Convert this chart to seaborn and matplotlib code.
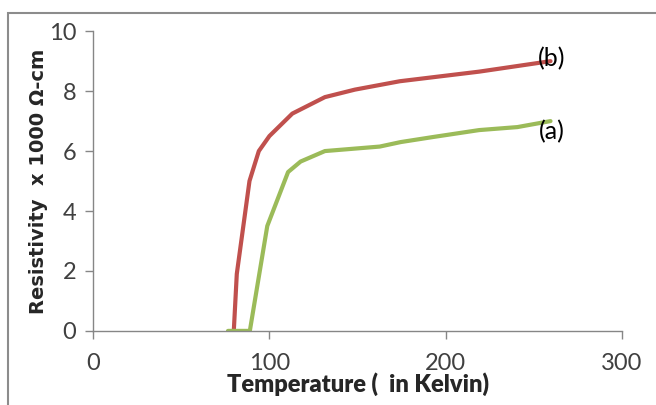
import matplotlib
matplotlib.use("Agg")
import matplotlib.pyplot as plt
import seaborn as sns
from matplotlib.patches import Rectangle

# data
temp_b = [79.8, 81.5, 88.7, 94.0, 100, 113, 131.5, 148.5, 174, 219, 259.5]
rho_b = [0.0, 1.9, 5.0, 6.0, 6.5, 7.25, 7.8, 8.05, 8.33, 8.65, 9.0]
temp_a = [76.5, 88.9, 98.8, 110.6, 117.7, 131.5, 162.6, 174.5, 193, 219, 240.7, 259.5]
rho_a = [0.0, 0.0, 3.5, 5.3, 5.65, 6.0, 6.15, 6.3, 6.47, 6.7, 6.8, 7.0]

x_ticks = [0, 100, 200, 300]
y_ticks = [0, 2, 4, 6, 8, 10]

sns.set_style("white")
plt.rcParams['font.family'] = ['Lato', 'DejaVu Sans']

fig = plt.figure(figsize=(6.56, 4.05), dpi=100)
ax = fig.add_axes([0.142, 0.183, 0.806, 0.740])

# outer chart frame
fig.patches.append(Rectangle((8 / 656, -0.1), 1.1, 1 - 13 / 405 + 0.1,
                             transform=fig.transFigure, fill=False,
                             edgecolor='#8c8c8c', linewidth=1.5))

sns.lineplot(x=temp_b, y=rho_b, ax=ax, sort=False, color='#C0504D', linewidth=3)
sns.lineplot(x=temp_a, y=rho_a, ax=ax, sort=False, color='#9BBB59', linewidth=3)

ax.text(260, 9.1, "(b)", fontsize=18, ha='center', va='center', color='black')
ax.text(260, 6.65, "(a)", fontsize=18, ha='center', va='center', color='black')

ax.set_xlim(0, 300)
ax.set_ylim(0, 10)
ax.set_xticks(x_ticks)
ax.set_yticks(y_ticks)

for s in ['top', 'right']:
    ax.spines[s].set_visible(False)
for s in ['left', 'bottom']:
    ax.spines[s].set_color('#868686')
    ax.spines[s].set_linewidth(1)
ax.tick_params(axis='both', direction='out', length=6, width=1, color='#868686',
               labelsize=17, labelcolor='#404040', left=True, bottom=True)
ax.tick_params(axis='x', pad=10)
ax.tick_params(axis='y', pad=6)

ax.set_xlabel("Temperature (  in Kelvin)", fontsize=17, fontweight='heavy', labelpad=-1)
ax.set_ylabel("Resistivity  x 1000 Ω-cm", fontsize=14, fontweight='bold',
              family=['DejaVu Sans'], labelpad=1)

fig.savefig("out.png", dpi=100)
